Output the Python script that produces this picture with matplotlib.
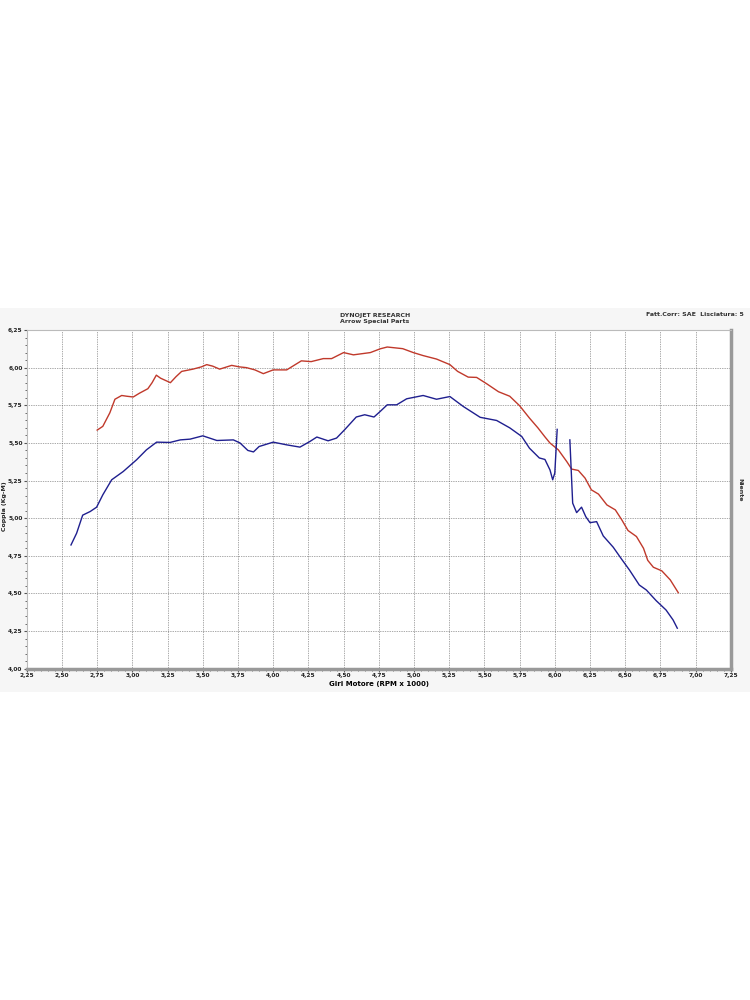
import numpy as np
import matplotlib
matplotlib.use("Agg")
import matplotlib.pyplot as plt
from matplotlib.ticker import MultipleLocator, FuncFormatter
from matplotlib.patches import Rectangle

# Red curve (RPM x 1000, Kg-M)
red_rpm = [2.75, 2.79, 2.84, 2.876, 2.924, 2.96, 3.006, 3.05, 3.11, 3.14, 3.17, 3.2, 3.27, 3.31,
           3.35, 3.43, 3.49, 3.528, 3.57, 3.62, 3.705, 3.76, 3.81, 3.87, 3.93, 4.0, 4.096, 4.2,
           4.27, 4.356, 4.415, 4.5, 4.57, 4.69, 4.76, 4.81, 4.92, 4.995, 5.065, 5.16, 5.255,
           5.31, 5.385, 5.445, 5.516, 5.6, 5.68, 5.75, 5.82, 5.88, 5.93, 5.966, 6.025, 6.085,
           6.12, 6.167, 6.215, 6.26, 6.31, 6.37, 6.43, 6.475, 6.52, 6.58, 6.63, 6.66, 6.70,
           6.76, 6.82, 6.877]
red_val = [5.585, 5.61, 5.70, 5.79, 5.815, 5.81, 5.805, 5.83, 5.86, 5.90, 5.95, 5.93, 5.90, 5.94,
           5.975, 5.99, 6.005, 6.02, 6.01, 5.99, 6.015, 6.005, 6.0, 5.985, 5.96, 5.985, 5.985,
           6.045, 6.04, 6.06, 6.06, 6.10, 6.085, 6.10, 6.125, 6.137, 6.126, 6.10, 6.08, 6.057,
           6.02, 5.975, 5.937, 5.935, 5.893, 5.84, 5.81, 5.747, 5.665, 5.60, 5.54, 5.499,
           5.454, 5.376, 5.326, 5.317, 5.266, 5.188, 5.16, 5.088, 5.055, 4.99, 4.918, 4.878,
           4.80, 4.72, 4.674, 4.65, 4.59, 4.505]

# Blue curve (gap after the spike near 6.0)
blue_rpm = [2.564, 2.604, 2.647, 2.70, 2.746, 2.79, 2.853, 2.935, 3.03, 3.10, 3.172, 3.267,
            3.34, 3.41, 3.50, 3.60, 3.717, 3.764, 3.82, 3.86, 3.90, 4.0, 4.096, 4.19, 4.26,
            4.31, 4.39, 4.45, 4.51, 4.59, 4.65, 4.716, 4.76, 4.81, 4.877, 4.948, 5.065, 5.16,
            5.255, 5.35, 5.47, 5.587, 5.68, 5.765, 5.82, 5.89, 5.93, 5.966, 5.985, 6.0, 6.017,
            6.06,
            6.107, 6.127, 6.155, 6.19, 6.22, 6.25, 6.297, 6.344, 6.415, 6.475, 6.53, 6.60,
            6.65, 6.72, 6.79, 6.84, 6.87]
blue_val = [4.822, 4.90, 5.02, 5.044, 5.073, 5.155, 5.255, 5.31, 5.388, 5.454, 5.505, 5.503,
            5.52, 5.525, 5.547, 5.516, 5.52, 5.50, 5.45, 5.44, 5.476, 5.505, 5.487, 5.472,
            5.509, 5.539, 5.514, 5.532, 5.59, 5.672, 5.687, 5.672, 5.709, 5.753, 5.753, 5.793,
            5.815, 5.79, 5.808, 5.742, 5.67, 5.649, 5.60, 5.543, 5.465, 5.40, 5.39, 5.32,
            5.255, 5.30, 5.59,
            np.nan,
            5.52, 5.10, 5.037, 5.073, 5.01, 4.97, 4.977, 4.882, 4.807, 4.727, 4.656, 4.556,
            4.523, 4.452, 4.39, 4.324, 4.269]

fig = plt.figure(figsize=(7.5, 10), dpi=100)
fig.patch.set_facecolor("white")
# light gray panel behind the chart
fig.add_artist(Rectangle((0, 0.308), 1, 0.384, transform=fig.transFigure,
                         facecolor="#f6f6f6", edgecolor="none", zorder=0))

ax = fig.add_axes([0.0357, 0.3313, 0.9387, 0.3387])
ax.set_facecolor("white")
ax.plot(red_rpm, red_val, color="#c0392b", linewidth=1.0)
ax.plot(blue_rpm, blue_val, color="#1f1f8f", linewidth=1.0)

ax.set_xlim(2.25, 7.25)
ax.set_ylim(4.0, 6.25)
ax.xaxis.set_major_locator(MultipleLocator(0.25))
ax.yaxis.set_major_locator(MultipleLocator(0.25))
ax.xaxis.set_minor_locator(MultipleLocator(0.05))
ax.yaxis.set_minor_locator(MultipleLocator(0.05))
fmt = FuncFormatter(lambda v, p: f"{v:.2f}".replace(".", ","))
ax.xaxis.set_major_formatter(fmt)
ax.yaxis.set_major_formatter(fmt)
ax.tick_params(which="both", labelsize=4.2, colors="#555555", labelcolor="#222222")
ax.tick_params(which="major", length=2, pad=1)
ax.tick_params(which="minor", length=1.5)
for lab in ax.get_xticklabels() + ax.get_yticklabels():
    lab.set_fontweight("bold")

ax.grid(True, which="major", linestyle=(0, (1, 1.5)), color="#555555", linewidth=0.5)
for side in ["left", "top"]:
    ax.spines[side].set_color("#bbbbbb")
    ax.spines[side].set_linewidth(0.8)
for side in ["right", "bottom"]:
    ax.spines[side].set_color("#999999")
    ax.spines[side].set_linewidth(2.5)

ax.set_xlabel("Giri Motore (RPM x 1000)", fontsize=5, fontweight="bold", labelpad=2)
fig.text(0.0065, 0.494, "Coppia (Kg-M)", ha="center", va="center", rotation=90,
         fontsize=4.5, fontweight="bold", color="#222222")

fig.text(0.5, 0.685, "DYNOJET RESEARCH", ha="center", va="center", fontsize=4.5, fontweight="bold", color="#333333")
fig.text(0.5, 0.678, "Arrow Special Parts", ha="center", va="center", fontsize=4.5, fontweight="bold", color="#333333")
fig.text(0.992, 0.685, "Fatt.Corr: SAE  Lisciatura: 5", ha="right", va="center", fontsize=4.5, fontweight="bold", color="#333333")
fig.text(0.987, 0.51, "Niente", ha="center", va="center", rotation=-90, fontsize=4.5, fontweight="bold", color="#333333")

fig.savefig("out.png", dpi=100)
